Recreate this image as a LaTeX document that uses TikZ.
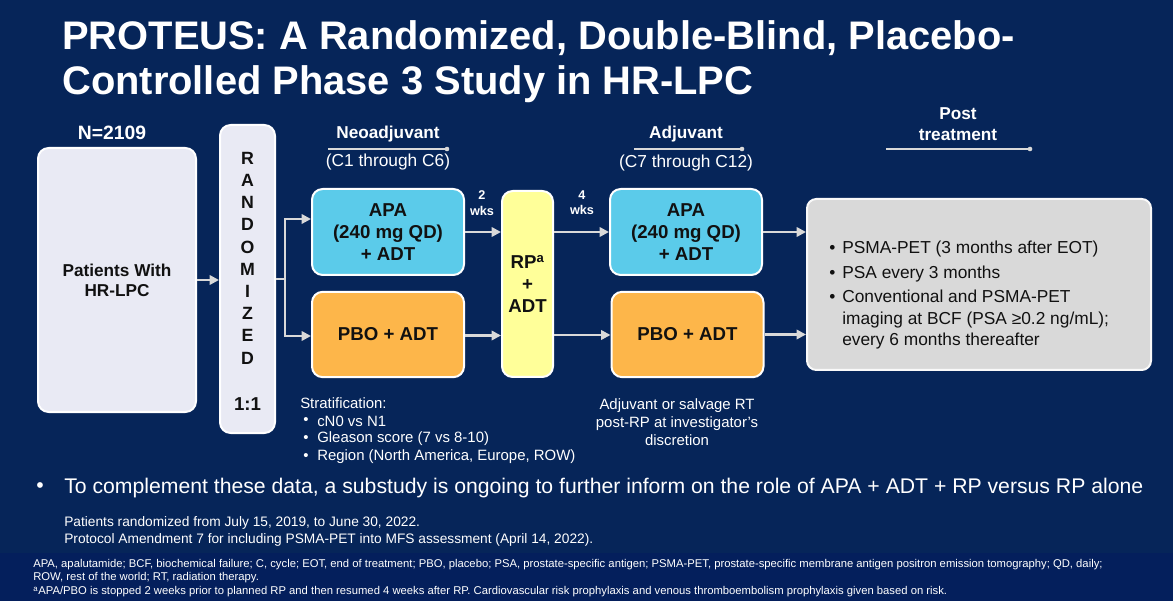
\documentclass[tikz,border=0pt]{standalone}
\usepackage{fontspec}
\setmainfont{Liberation Sans}
\usetikzlibrary{arrows.meta,calc,positioning}
\definecolor{Navy}{HTML}{062559}
\definecolor{NavyBand}{HTML}{041F5C}
\definecolor{Lavender}{HTML}{E9EAF4}
\definecolor{ApaBlue}{HTML}{5BCBEA}
\definecolor{PboOrange}{HTML}{FDB64A}
\definecolor{RpYellow}{HTML}{FFFF99}
\definecolor{PostGray}{HTML}{D9D9D9}
\definecolor{ArrowGray}{HTML}{D9D9D9}
\definecolor{Ink}{HTML}{111111}
\newcommand{\fs}[2]{\fontsize{#1}{#2}\selectfont}

\begin{document}
\begin{tikzpicture}[x=0.75pt,y=-0.75pt,>=Triangle,
    every node/.style={text=white,inner sep=0pt},
    box/.style={draw=white,line width=1.5pt,rounded corners=8pt,align=center,
      text=Ink,font=\fs{14}{16.5}\bfseries},
    apabox/.style={box,fill=ApaBlue,minimum width=114pt,minimum height=64.5pt},
    pbobox/.style={box,fill=PboOrange,minimum width=114pt,minimum height=64pt},
    flow/.style={draw=ArrowGray,line width=1.9pt,-{Triangle[length=7pt,width=7pt]}},
    hdrline/.style={draw=ArrowGray,line width=1.1pt},
    hdr/.style={font=\fs{12.9}{15.75}\bfseries,align=center},
    cyc/.style={font=\fs{13}{15.75}},
    small/.style={font=\fs{11.2}{13.5}},
    posttxt/.style={text=Ink,font=\fs{13}{16},anchor=west,align=left}]
  \useasboundingbox (0,0) rectangle (1173,605);
  \fill[white] (0,0) rectangle (1173,605);
  \fill[Navy] (0,0) rectangle (1173,553);
  \fill[NavyBand] (0,553) rectangle (1173,601);

  % title
  \node[anchor=base west,font=\fs{29.9}{34}\bfseries] (title1) at (62,50)
    {PROTEUS: A Randomized, Double-Blind, Placebo-};
  \node[anchor=base west,font=\fs{29.9}{34}\bfseries] (title2) at (62,95)
    {Controlled Phase 3 Study in HR-LPC};

  % patients and randomisation
  \node[font=\fs{14.5}{17}\bfseries] (nall) at (112,133) {N=2109};
  \node[box,fill=Lavender,font=\fs{12.9}{15}\bfseries,minimum width=118.5pt,
        minimum height=198pt] (patients) at (117,280) {Patients With\\HR-LPC};
  \node[box,fill=Lavender,minimum width=41.25pt,minimum height=231pt] (rand) at (247.5,279) {};
  \foreach \lt [count=\i] in {R,A,N,D,O,M,I,Z,E,D} {
    \node[text=Ink,font=\fs{13.3}{15}\bfseries] (lt\i) at (247.5,{136+22.2*\i}) {\lt};
  }
  \node[text=Ink,font=\fs{14}{16}\bfseries] (ratio) at (247.5,404) {1:1};

  % neoadjuvant
  \node[hdr] (neo) at (388,134) {Neoadjuvant};
  \draw[hdrline] (328,149) -- (447,149);
  \fill[ArrowGray] (447,149) circle (2.3);
  \node[cyc] (neocyc) at (388,162) {(C1 through C6)};
  \node[apabox] (apa1) at (388,232) {APA\\(240 mg QD)\\+ ADT};
  \node[pbobox] (pbo1) at (388,334.5) {PBO + ADT};

  % surgery
  \node[font=\fs{9.5}{11.5}\bfseries,align=center] (wk2) at (482,203) {2\\wks};
  \node[box,fill=RpYellow,minimum width=38.25pt,minimum height=139.5pt,
        font=\fs{14}{16.5}\bfseries] (rp) at (527.5,284) {RP\textsuperscript{a}\\+\\ADT};
  \node[font=\fs{9.5}{11.5}\bfseries,align=center] (wk4) at (582,203) {4\\wks};

  % adjuvant
  \node[hdr] (adj) at (686,134) {Adjuvant};
  \draw[hdrline] (634,149) -- (742,149);
  \fill[ArrowGray] (742,149) circle (2.3);
  \node[cyc] (adjcyc) at (686,163) {(C7 through C12)};
  \node[apabox] (apa2) at (686,232) {APA\\(240 mg QD)\\+ ADT};
  \node[pbobox] (pbo2) at (687.5,334.5) {PBO + ADT};

  % post treatment
  \node[hdr] (post) at (958,124) {Post\\treatment};
  \draw[hdrline] (886,149) -- (1030,149);
  \fill[ArrowGray] (1030,149) circle (2.3);
  \node[box,fill=PostGray,draw=white!85!PostGray,rounded corners=7pt,
        minimum width=258pt,minimum height=128.25pt] (postbox) at (979,284.5) {};
  \node[posttxt] (pb1) at (829,249) {•};
  \node[posttxt] (pt1) at (842,249) {PSMA-PET (3 months after EOT)};
  \node[posttxt] (pb2) at (829,274) {•};
  \node[posttxt] (pt2) at (842,274) {PSA every 3 months};
  \node[posttxt] (pb3) at (829,298) {•};
  \node[posttxt,anchor=north west] (pt3) at (842,290)
    {Conventional and PSMA-PET\\imaging at BCF (PSA ≥0.2 ng/mL);\\every 6 months thereafter};

  % connectors
  \draw[flow] (patients.east) -- (patients.east -| rand.west);
  \draw[flow] (rand.east) -- ++(9,0) |- ($(apa1.west)+(0,-13)$);
  \draw[flow] (rand.east) -- ++(9,0) |- ($(pbo1.west)+(0,1.5)$);
  \draw[flow] (apa1.east) -- (apa1.east -| rp.west);
  \draw[flow] ($(pbo1.east)+(0,1)$) -- ($(pbo1.east -| rp.west)+(0,1)$);
  \draw[flow] ($(rp.east)+(0,-52)$) -- (apa2.west);
  \draw[flow] ($(rp.east)+(0,51)$) -- ($(rp.east -| pbo2.west)+(0,51)$);
  \draw[flow] (apa2.east) -- (apa2.east -| postbox.west);
  \draw[flow] (pbo2.east) -- (pbo2.east -| postbox.west);

  % notes under the arms
  \node[small,anchor=west] (strat) at (300,403) {Stratification:};
  \foreach \txt/\yy [count=\i] in {cN0 vs N1/421,Gleason score (7 vs 8-10)/439,{Region (North America, Europe, ROW)}/457} {
    \node[small,anchor=west] (sb\i) at (303,\yy) {•};
    \node[small,anchor=west] (st\i) at (317,\yy) {\txt};
  }
  \node[small,align=center] (rtnote) at (677,422)
    {Adjuvant or salvage RT\\post-RP at investigator's\\discretion};

  % bottom text
  \node[font=\fs{15.9}{18},anchor=west] (bul) at (36,488) {•};
  \node[font=\fs{15.9}{18},anchor=west] (substudy) at (64,488)
    {To complement these data, a substudy is ongoing to further inform on the role of APA + ADT + RP versus RP alone};
  \node[font=\fs{10.3}{12.75},anchor=west] (dates) at (64,523)
    {Patients randomized from July 15, 2019, to June 30, 2022.};
  \node[font=\fs{10.3}{12.75},anchor=west] (amend) at (64,540)
    {Protocol Amendment 7 for including PSMA-PET into MFS assessment (April 14, 2022).};
  \node[font=\fs{8.45}{9.5},anchor=west] (fn1) at (33,565)
    {APA, apalutamide; BCF, biochemical failure; C, cycle; EOT, end of treatment; PBO, placebo; PSA, prostate-specific antigen; PSMA-PET, prostate-specific membrane antigen positron emission tomography; QD, daily;};
  \node[font=\fs{8.45}{9.5},anchor=west] (fn2) at (33,578)
    {ROW, rest of the world; RT, radiation therapy.};
  \node[font=\fs{8.45}{9.5},anchor=west] (fn3) at (33,592)
    {\textsuperscript{a}APA/PBO is stopped 2 weeks prior to planned RP and then resumed 4 weeks after RP. Cardiovascular risk prophylaxis and venous thromboembolism prophylaxis given based on risk.};
\end{tikzpicture}
\end{document}
